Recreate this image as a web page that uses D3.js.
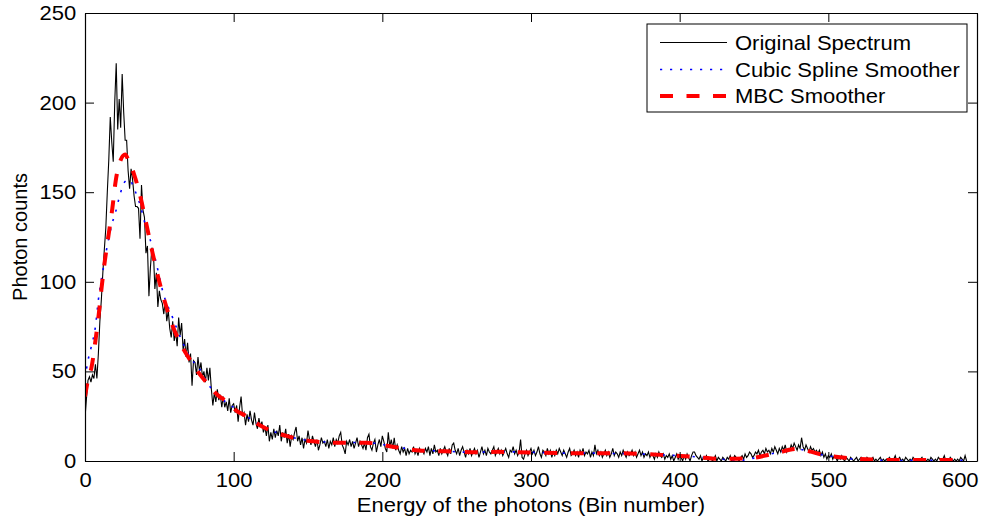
<!DOCTYPE html>
<html>
<head>
<meta charset="utf-8">
<script src="https://cdn.jsdelivr.net/npm/d3@7"></script>
<style>
  html, body { margin: 0; padding: 0; background: #fff; }
  svg { display: block; font-family: "Liberation Sans", Arial, Helvetica, sans-serif; }
</style>
</head>
<body>
<svg id="chart" width="999" height="518"></svg>
<script>
// ---- data ----
const xTicks = [0, 100, 200, 300, 400, 500, 600];
const yTicks = [0, 50, 100, 150, 200, 250];
const seriesNames = ["Original Spectrum", "Cubic Spline Smoother", "MBC Smoother"];
const xLabel = "Energy of the photons (Bin number)";
const yLabel = "Photon counts";

// Original spectrum: photon counts per bin (bins 0..593)
const originalCounts = [
  24,35,45,47,44,48,46,54,46,60,
  78,90,105,118,130,150,168,192,178,167,
  200,222,185,202,186,216,195,179,179,162,
  152,163,157,148,142,142,141,124,154,140,
  136,116,120,92,108,119,117,96,105,86,
  95,90,88,82,90,78,84,74,69,78,
  67,72,64,80,70,77,62,68,58,66,
  55,60,42,56,55,48,58,50,55,47,
  50,44,52,45,52,40,31,38,33,40,
  34,37,30,36,30,33,28,35,27,31,
  32,27,31,22,30,36,25,27,20,26,
  22,28,23,20,27,21,18,24,19,22,
  16,19,14,20,11,16,12,18,13,17,
  14,20,11,16,13,18,10,15,8,14,
  12,16,19,11,14,9,13,7,12,10,
  17,12,9,14,11,8,12,6,9,13,
  10,11,8,12,7,11,9,13,8,12,
  10,14,16,9,7,4,11,9,12,8,
  11,7,10,13,8,11,9,7,10,6,
  13,15,8,6,10,12,5,9,12,8,
  14,11,7,5,16,8,12,7,13,6,
  9,6,4,8,5,7,3,7,4,6,
  5,8,4,6,3,7,5,6,4,7,
  5,8,3,7,4,9,5,6,3,7,
  4,6,8,5,3,7,4,9,10,6,
  4,7,3,6,8,5,2,6,4,7,
  3,5,7,4,6,2,5,8,4,6,
  3,7,5,4,6,8,3,5,7,4,
  6,3,5,7,4,2,6,5,8,4,
  6,3,5,12,2,1,4,6,3,5,
  7,4,6,3,5,8,4,2,6,5,
  3,7,4,6,2,5,3,6,4,7,
  5,3,6,4,2,5,7,3,4,6,
  3,5,2,6,4,7,3,5,4,6,
  2,5,3,9,4,6,3,5,2,4,
  6,3,5,2,4,7,3,5,4,2,
  5,3,6,4,2,5,3,4,6,3,
  5,2,4,6,3,5,2,4,3,5,
  2,4,3,1,4,2,5,3,2,4,
  1,3,2,4,1,3,0,2,4,1,
  3,2,0,3,1,4,2,0,3,5,
  5,3,2,1,3,0,2,1,3,0,
  1,2,0,1,3,0,2,1,0,2,
  1,0,2,1,3,0,1,3,2,1,
  0,2,3,1,4,2,3,5,4,2,
  3,5,4,6,3,5,6,4,7,5,
  6,4,7,5,8,6,4,7,5,8,
  6,9,5,7,6,9,7,10,8,6,
  9,7,13,8,6,9,7,5,8,6,
  7,5,6,4,6,3,5,2,4,1,
  3,2,4,1,3,2,0,2,1,3,
  1,0,2,1,0,2,1,0,1,2,
  0,1,2,0,1,0,2,1,0,1,
  2,0,1,0,1,2,0,1,0,1,
  0,2,1,0,1,3,0,1,2,0,
  1,0,2,1,0,1,0,2,1,0,
  1,0,1,2,0,1,0,1,0,2,
  1,0,1,0,2,1,0,1,3,0,
  1,0,2,1,0,1,0,1,0,2,
  1,0,3,0
];

// Cubic spline smoother: sampled [bin, value]
const splineBins   = [0, 2, 4, 7, 9, 12, 14.5, 18.4, 20.6, 24, 27, 30, 33, 37.4, 39.7, 45.2, 47.5, 53, 58, 65.4, 71, 76.6, 83.3, 90, 98, 105, 117, 124, 135, 153, 171, 189, 207, 225, 242, 260, 278, 299, 320, 338, 356, 374, 392, 410, 428, 440, 450, 464, 479, 495, 515, 533, 551, 569, 592];
const splineValues = [46, 56, 63, 75, 90, 106, 118, 133, 139, 150, 156, 157, 152, 142, 134.5, 119.6, 112, 92.6, 82, 66.6, 57.5, 52, 42.4, 36, 31, 27, 20.5, 17.5, 14.2, 11.2, 10.4, 10.3, 8.2, 6.0, 5.5, 4.8, 5.2, 4.9, 4.4, 4.4, 4.2, 3.9, 3.3, 2.4, 1.0, 0.3, 1.6, 4.4, 6.6, 3.6, 1.2, 0.4, 0.3, 0.4, 0.4];

// MBC smoother: sampled [bin, value]
const mbcBins   = [0, 2.5, 4.3, 7, 9.4, 11.2, 13.4, 16, 18.4, 20.6, 24, 27, 29.6, 33, 37.4, 40.8, 45.2, 49.7, 54, 58.7, 66.5, 71, 76.6, 82, 89, 95.6, 102, 107.5, 117.6, 124, 135.5, 153, 171, 189, 207, 225, 242, 260, 278, 299, 320, 338, 356, 374, 392, 410, 428, 446, 464, 479, 495, 515, 533, 551, 569, 592];
const mbcValues = [36, 47, 52, 67, 83, 97, 112, 127, 141, 156, 168, 171, 167, 160, 147, 134, 117, 101, 88, 76, 62, 56, 49, 43.5, 37, 33, 28, 25.5, 20, 17.3, 14, 11, 10.2, 10.2, 8, 5.8, 5.4, 4.9, 5.1, 4.8, 4.4, 4.3, 4.3, 4, 3.2, 2.3, 1.2, 1.5, 4.2, 6.7, 3.7, 1.5, 0.7, 0.5, 0.5, 0.5];

// ---- layout ----
const svg = d3.select("#chart");
const mLeft = 85, mRight = 977, mTop = 13, mBottom = 461;
const x = d3.scaleLinear().domain([0, 600]).range([mLeft, mRight]);
const y = d3.scaleLinear().domain([0, 250]).range([mBottom, mTop]);
const fontSize = 20;
const stretch = 1.1; // reference glyphs are slightly wider than tall

svg.append("defs").append("clipPath").attr("id", "clip")
  .append("rect").attr("x", mLeft).attr("y", mTop).attr("width", mRight - mLeft).attr("height", mBottom - mTop);

const plot = svg.append("g").attr("clip-path", "url(#clip)");

const orig = originalCounts.map((v, i) => [i, v]);
const spline = splineBins.map((b, i) => [b, splineValues[i]]);
const mbc = mbcBins.map((b, i) => [b, mbcValues[i]]);

const lineLin = d3.line().x(d => x(d[0])).y(d => y(d[1]));
const lineSmooth = d3.line().x(d => x(d[0])).y(d => y(d[1])).curve(d3.curveMonotoneX);

const blueDash = "2.2,7.8";
const redDash = "13,13.5";

plot.append("path").datum(orig).attr("d", lineLin)
  .attr("fill", "none").attr("stroke", "#000").attr("stroke-width", 1.1);
plot.append("path").datum(spline).attr("d", lineSmooth)
  .attr("fill", "none").attr("stroke", "#0000ff").attr("stroke-width", 1.6)
  .attr("stroke-dasharray", blueDash);
plot.append("path").datum(mbc).attr("d", lineSmooth)
  .attr("fill", "none").attr("stroke", "#ff0000").attr("stroke-width", 4)
  .attr("stroke-dasharray", redDash);

// ---- axes (MATLAB style: box, inward ticks on all sides) ----
const tickLen = 9;
const axes = svg.append("g");
const bottomAxis = d3.axisBottom(x).tickValues(xTicks).tickSizeInner(-tickLen).tickSizeOuter(0).tickPadding(12);
const topAxis = d3.axisTop(x).tickValues(xTicks).tickSizeInner(-tickLen).tickSizeOuter(0).tickFormat("");
const leftAxis = d3.axisLeft(y).tickValues(yTicks).tickSizeInner(-tickLen).tickSizeOuter(0).tickPadding(8);
const rightAxis = d3.axisRight(y).tickValues(yTicks).tickSizeInner(-tickLen).tickSizeOuter(0).tickFormat("");

const gB = axes.append("g").attr("transform", `translate(0,${mBottom})`).call(bottomAxis);
const gT = axes.append("g").attr("transform", `translate(0,${mTop})`).call(topAxis);
const gL = axes.append("g").attr("transform", `translate(${mLeft},0)`).call(leftAxis);
const gR = axes.append("g").attr("transform", `translate(${mRight},0)`).call(rightAxis);
[gB, gT, gL, gR].forEach(g => {
  g.selectAll("path.domain").attr("stroke", "#000").attr("stroke-width", 1.2);
  g.selectAll(".tick line").attr("stroke", "#000").attr("stroke-width", 1);
  g.selectAll(".tick text").attr("fill", "#000").attr("font-size", fontSize)
    .attr("font-family", "'Liberation Sans', Arial, sans-serif")
    .attr("transform", `scale(${stretch},1)`);
});
gB.selectAll(".tick text").attr("dy", "0.71em");
// last x label sits just inside the right edge, as in the reference
gB.selectAll(".tick").filter(d => d === 600).select("text")
  .attr("text-anchor", "end").attr("x", 1);

// axis labels
svg.append("text").attr("transform", `translate(${(mLeft + mRight) / 2},512) scale(${stretch},1)`)
  .attr("text-anchor", "middle").attr("font-size", fontSize).attr("fill", "#000").text(xLabel);
svg.append("text").attr("transform", `translate(27,${(mTop + mBottom) / 2}) rotate(-90)`)
  .attr("text-anchor", "middle").attr("font-size", fontSize).attr("fill", "#000").text(yLabel);

// ---- legend ----
const lg = svg.append("g");
lg.append("rect").attr("x", 647).attr("y", 24).attr("width", 320).attr("height", 88)
  .attr("fill", "#fff").attr("stroke", "#000").attr("stroke-width", 1);
const legendStyles = [
  { stroke: "#000", width: 1.1, dash: null },
  { stroke: "#0000ff", width: 1.6, dash: blueDash },
  { stroke: "#ff0000", width: 4, dash: redDash }
];
const rowY = [42.5, 69.5, 96];
seriesNames.forEach((name, i) => {
  const s = legendStyles[i];
  const ln = lg.append("line").attr("x1", 660).attr("x2", 727).attr("y1", rowY[i]).attr("y2", rowY[i])
    .attr("stroke", s.stroke).attr("stroke-width", s.width);
  if (s.dash) ln.attr("stroke-dasharray", s.dash);
  lg.append("text").attr("transform", `translate(735,${rowY[i]}) scale(${stretch},1)`).attr("dy", "0.35em")
    .attr("font-size", fontSize).attr("fill", "#000").text(name);
});
</script>
</body>
</html>
